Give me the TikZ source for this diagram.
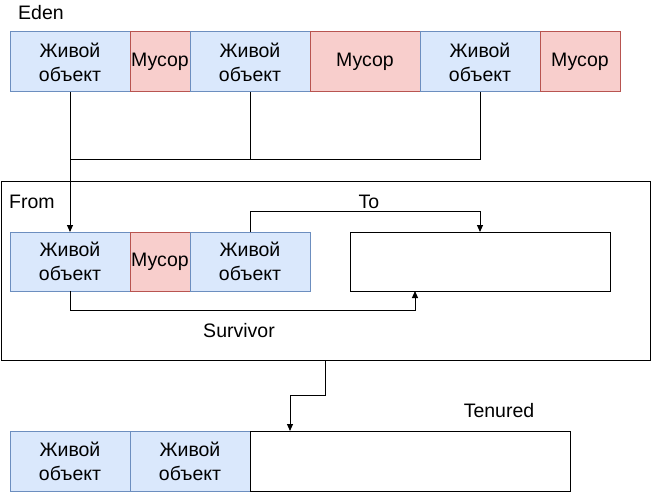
\documentclass[tikz,border=0pt]{standalone}
\usepackage{fontspec}
\setmainfont{Liberation Sans}
\usetikzlibrary{arrows.meta}
\definecolor{bfill}{HTML}{DAE8FC}
\definecolor{bline}{HTML}{6C8EBF}
\definecolor{rfill}{HTML}{F8CECC}
\definecolor{rline}{HTML}{B85450}
\tikzset{
  blk/.style={draw, line width=1pt, inner sep=0pt, outer sep=0pt, align=center, font=\fontsize{19.5}{24}\selectfont},
  live/.style={blk, fill=bfill, draw=bline, minimum width=120pt, minimum height=60pt},
  trash/.style={blk, fill=rfill, draw=rline, minimum height=60pt},
  plain/.style={blk, fill=white, draw=black},
  lbl/.style={inner sep=0pt, font=\fontsize{19.5}{24}\selectfont},
  conn/.style={line width=1pt, black},
  arr/.style={conn, -{Triangle[length=7pt,width=6pt]}},
}
\begin{document}
\begin{tikzpicture}[x=1pt,y=-1pt]
\useasboundingbox (0,0) rectangle (651,492);
% Eden
\node[lbl, anchor=west] (eden) at (18,13) {Eden};
\node[live] (e1) at (70,62) {Живой\\объект};
\node[trash, minimum width=60pt] (e2) at (160,62) {Мусор};
\node[live] (e3) at (250,62) {Живой\\объект};
\node[trash, minimum width=110pt] (e4) at (365,62) {Мусор};
\node[live] (e5) at (480,62) {Живой\\объект};
\node[trash, minimum width=80pt] (e6) at (580,62) {Мусор};
% Survivor
\node[plain, minimum width=649pt, minimum height=178pt] (surv) at (325.5,271) {};
\node[lbl, anchor=west] (from) at (9,201.5) {From};
\node[lbl] (to) at (369,201.5) {To};
\node[lbl] (survl) at (239,331) {Survivor};
\node[live, minimum height=59pt] (f1) at (70,261.5) {Живой\\объект};
\node[trash, minimum width=60pt, minimum height=59pt] (f2) at (160,261.5) {Мусор};
\node[live, minimum height=59pt] (f3) at (250,261.5) {Живой\\объект};
\node[plain, minimum width=260pt, minimum height=59pt] (tobox) at (480,261.5) {};
% Tenured
\node[lbl] (ten) at (499,411) {Tenured};
\node[live] (t1) at (70,461) {Живой\\объект};
\node[live] (t2) at (190,461) {Живой\\объект};
\node[plain, minimum width=320pt, minimum height=60pt] (tw) at (410,461) {};
% connectors
\coordinate (j) at (70,160);
\draw[conn] (e3.south) |- (j);
\draw[conn] (e5.south) |- (j);
\draw[arr] (e1.south) -- (f1.north);
\draw[arr] (f3.north) -- ++(0,-21) -| (tobox.north);
\draw[arr] (f1.south) -- ++(0,19.5) -| ([xshift=-65pt]tobox.south);
\draw[arr] (surv.south) -- ++(0,35) -| ([xshift=40pt]tw.north west);
\end{tikzpicture}
\end{document}
